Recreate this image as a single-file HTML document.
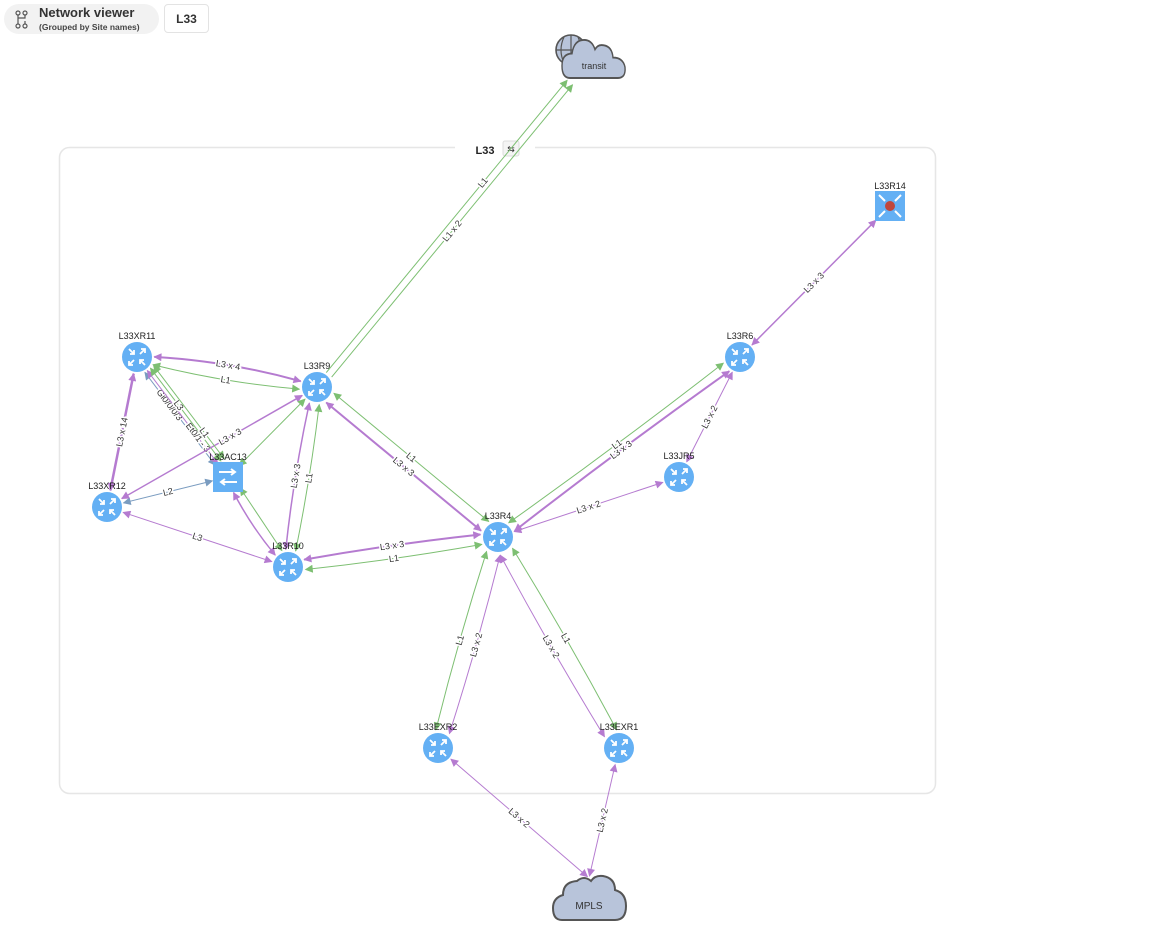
<!DOCTYPE html>
<html><head><meta charset="utf-8"><style>
body{margin:0;width:1175px;height:938px;background:#fff;overflow:hidden;font-family:"Liberation Sans","DejaVu Sans",sans-serif;}
#hdr{position:absolute;left:4px;top:4px;width:155px;height:30px;background:#f2f2f2;border-radius:15px;}
#hdr .t{position:absolute;left:35px;top:1px;font-size:13px;font-weight:bold;color:#333}
#hdr .s{position:absolute;left:35px;top:18px;font-size:8.5px;font-weight:bold;color:#444}
#tab{position:absolute;left:164px;top:4px;width:45px;height:29px;border:1px solid #e3e3e3;border-radius:4px;font-size:12px;font-weight:bold;line-height:29px;text-align:center;color:#333;box-sizing:border-box}
svg{position:absolute;left:0;top:0}
</style></head><body>
<svg id="s" width="1175" height="938" xmlns="http://www.w3.org/2000/svg">
<defs>
<marker id="mp" viewBox="0 0 10 10" refX="9" refY="5" markerWidth="9" markerHeight="8" markerUnits="userSpaceOnUse" orient="auto-start-reverse"><path d="M0,0L10,5L0,10z" fill="#b57bd0"/></marker>
<marker id="mg" viewBox="0 0 10 10" refX="9" refY="5" markerWidth="9" markerHeight="8" markerUnits="userSpaceOnUse" orient="auto-start-reverse"><path d="M0,0L10,5L0,10z" fill="#7dbf72"/></marker>
<marker id="mb" viewBox="0 0 10 10" refX="9" refY="5" markerWidth="9" markerHeight="8" markerUnits="userSpaceOnUse" orient="auto-start-reverse"><path d="M0,0L10,5L0,10z" fill="#7a9cc0"/></marker>
</defs>
<rect x="59.5" y="147.5" width="876" height="646" rx="10" fill="none" stroke="#e6e6e6" stroke-width="1.5"/>
<rect x="455" y="140" width="80" height="16" fill="#fff"/>
<text x="485" y="154" font-size="11" font-weight="bold" text-anchor="middle" fill="#222">L33</text>
<rect x="503" y="141" width="16" height="15" rx="2" fill="#f4f4f4" stroke="#ddd"/>
<text x="511" y="152" font-size="9" text-anchor="middle" fill="#333">⇆</text>
<g id="edges"></g>
<g id="nodes"></g>
<!-- transit cloud -->
<g stroke="#555" stroke-width="1.6" fill="#b8c4da">
<circle cx="571" cy="50" r="15"/>
<path d="M571,35v30M556,50h30M564,37q-6,13 0,26M578,37q6,13 0,26" fill="none" stroke-width="1.2"/>
<path transform="translate(4,78) scale(1,1.36) translate(0,-77)" d="M566,77q-8,0 -8,-9q0,-9 10,-9q2,-10 12,-10q8,0 11,7q3,-4 9,-3q8,1 9,9q10,0 12,7q1,8 -7,8z" stroke-width="1.4"/>
</g>
<text x="594" y="69" font-size="9" text-anchor="middle" fill="#333">transit</text>
<!-- MPLS cloud -->
<path d="M562,920q-9,0 -9,-12q0,-10 10,-13q0,-13 14,-14q7,-6 14,0q4,-6 12,-5q12,2 12,14q11,3 11,16q0,14 -11,14z" fill="#b8c4da" stroke="#555" stroke-width="2"/>
<text x="589" y="909" font-size="10" text-anchor="middle" fill="#333">MPLS</text>
</svg>
<div id="hdr"><svg width="22" height="22" style="left:8px;top:5px" viewBox="0 0 22 22"><g fill="none" stroke="#555" stroke-width="1.2"><circle cx="6" cy="4" r="2"/><circle cx="13" cy="4" r="2"/><circle cx="6" cy="17" r="2"/><circle cx="13" cy="17" r="2"/><path d="M6,6v9M13,6v3H6M13,12v3"/></g></svg><div class="t">Network viewer</div><div class="s">(Grouped by Site names)</div></div>
<div id="tab">L33</div>
<script>
const N={XR11:[137,357],R9:[317,387],XR12:[107,507],AC13:[228,477],R10:[288,567],R4:[498,537],R6:[740,357],JR5:[679,477],R14:[890,206],EXR2:[438,748],EXR1:[619,748],TR:[570,80],MPLS:[589,878]};
const C={p:['#b57bd0','mp'],g:['#7dbf72','mg'],b:['#7a9cc0','mb']};
const NS='http://www.w3.org/2000/svg';
const E=document.getElementById('edges');
function mk(t,a,p){const e=document.createElementNS(NS,t);for(const k in a)e.setAttribute(k,a[k]);(p||E).appendChild(e);return e;}
function edge(a,b,c,w,lab,off,ra,rb,bend,lt,both){
 let [x1,y1]=N[a],[x2,y2]=N[b];let dx=x2-x1,dy=y2-y1,L=Math.hypot(dx,dy),ux=dx/L,uy=dy/L,nx=-uy,ny=ux;
 ra=ra==null?17:ra;rb=rb==null?17:rb;
 x1+=ux*ra+nx*off;y1+=uy*ra+ny*off;x2-=ux*rb-nx*off;y2-=uy*rb-ny*off;
 const mx=(x1+x2)/2+nx*(bend||0),my=(y1+y2)/2+ny*(bend||0);
 const at={d:`M${x1},${y1}Q${mx},${my} ${x2},${y2}`,fill:'none',stroke:C[c][0],'stroke-width':w,'marker-end':`url(#${C[c][1]})`};
 if(both!==false)at['marker-start']=`url(#${C[c][1]})`;
 mk('path',at);
 if(lab){let ang=Math.atan2(dy,dx)*180/Math.PI;if(ang>90)ang-=180;if(ang<-90)ang+=180;
  const t=lt==null?0.5:lt;const lx=x1+(x2-x1)*t+nx*(bend||0)*0.5*(t==0.5?1:0.8),ly=y1+(y2-y1)*t+ny*(bend||0)*0.5*(t==0.5?1:0.8);
  const g=mk('text',{x:lx,y:ly,'font-size':9,'text-anchor':'middle','dominant-baseline':'central',fill:'#333',transform:`rotate(${ang} ${lx} ${ly})`,stroke:'#fff','stroke-width':3,'paint-order':'stroke'});g.textContent=lab;}
}
edge('XR11','R9','p',2,'L3 x 4',-3,17,17,-8);
edge('XR11','R9','g',1,'L1',5,17,17,6);
edge('XR11','XR12','p',2.5,'L3 x 14',0);
edge('XR11','AC13','b',1,'Gi0/0/0/3',3,17,17,0,0.35);
edge('XR11','AC13','p',1,'Et0/1 - 3',0,17,17,0,0.72);
edge('XR11','AC13','g',1,'L3',-4,17,17,0,0.4);
edge('AC13','XR12','b',1,'L2',0,16,17);
edge('XR12','R9','p',1.5,'L3 x 3',0,17,17,0,0.6);
edge('AC13','R9','g',1,'',0,16,17);
edge('XR11','AC13','g',1,'L1',-8,17,17,0,0.72);
edge('AC13','R10','g',1,'',-4,16,17);
edge('AC13','R10','p',1.5,'',4,16,17,4);
edge('XR12','R10','p',1,'L3',0);
edge('R9','R10','p',1.5,'L3 x 3',5,17,17,4);
edge('R9','R10','g',1,'L1',-5,17,17,-3);
edge('R9','R4','p',2,'L3 x 3',6,17,17,0);
edge('R9','R4','g',1,'L1',-6,17,17,0);
edge('R9','TR','g',1,'L1 x 2',5,17,2,0,0.5,false);
edge('R9','TR','g',1,'L1',-2,17,2,0,0.65,false);
edge('R10','R4','p',2,'L3 x 3',-5,17,17,-3);
edge('R10','R4','g',1,'L1',5,17,17,3);
edge('R4','R6','p',2,'L3 x 3',5,17,17,-3);
edge('R4','R6','g',1,'L1',-5,17,17,3);
edge('R4','JR5','p',1,'L3 x 2',0);
edge('R6','JR5','p',1,'L3 x 2',0);
edge('R6','R14','p',1.5,'L3 x 3',0,17,20);
edge('R4','EXR2','g',1,'L1',7,17,17,3);
edge('R4','EXR2','p',1,'L3 x 2',-7,17,17,-3);
edge('R4','EXR1','p',1,'L3 x 2',7,17,17,3);
edge('R4','EXR1','g',1,'L1',-7,17,17,-3);
edge('EXR2','MPLS','p',1,'L3 x 2',0,17,2);
edge('EXR1','MPLS','p',1,'L3 x 2',0,17,2);
const ND=document.getElementById('nodes');
function router(k,lab){const [x,y]=N[k];const g=mk('g',{},ND);
 mk('circle',{cx:x,cy:y,r:15,fill:'#64b0f4'},g);
 mk('path',{d:`M${x-8},${y-8}l5,5M${x-3},${y-7}v4h-4M${x+8},${y+8}l-5,-5M${x+3},${y+7}v-4h4M${x+3},${y-3}l5,-5M${x+4},${y-8}h4v4M${x-3},${y+3}l-5,5M${x-8},${y+4}v4h4`,stroke:'#fff','stroke-width':1.8,fill:'none'},g);
 const t=mk('text',{x:x,y:y-18,'font-size':9,'text-anchor':'middle',fill:'#222'},g);t.textContent=lab;}
router('XR11','L33XR11');router('R9','L33R9');router('XR12','L33XR12');router('R10','L33R10');router('R4','L33R4');router('R6','L33R6');router('JR5','L33JR5');router('EXR2','L33EXR2');router('EXR1','L33EXR1');
(function(){const [x,y]=N.AC13;mk('rect',{x:x-15,y:y-15,width:30,height:30,fill:'#64b0f4'},ND);
 mk('path',{d:`M${x-9},${y-5}h16M${x+3},${y-8}l4,3l-4,3M${x+9},${y+5}h-16M${x-3},${y+2}l-4,3l4,3`,stroke:'#fff','stroke-width':2,fill:'none'},ND);
 const t=mk('text',{x:x,y:y-17,'font-size':9,'text-anchor':'middle',fill:'#222'},ND);t.textContent='L33AC13';})();
(function(){const [x,y]=N.R14;mk('rect',{x:x-15,y:y-15,width:30,height:30,fill:'#64b0f4'},ND);
 mk('path',{d:`M${x-11},${y-11}l6,6M${x+11},${y-11}l-6,6M${x-11},${y+11}l6,-6M${x+11},${y+11}l-6,-6`,stroke:'#fff','stroke-width':2,fill:'none'},ND);
 mk('circle',{cx:x,cy:y,r:5,fill:'#c0463c'},ND);
 const t=mk('text',{x:x,y:y-17,'font-size':9,'text-anchor':'middle',fill:'#222'},ND);t.textContent='L33R14';})();
</script>
</body></html>
